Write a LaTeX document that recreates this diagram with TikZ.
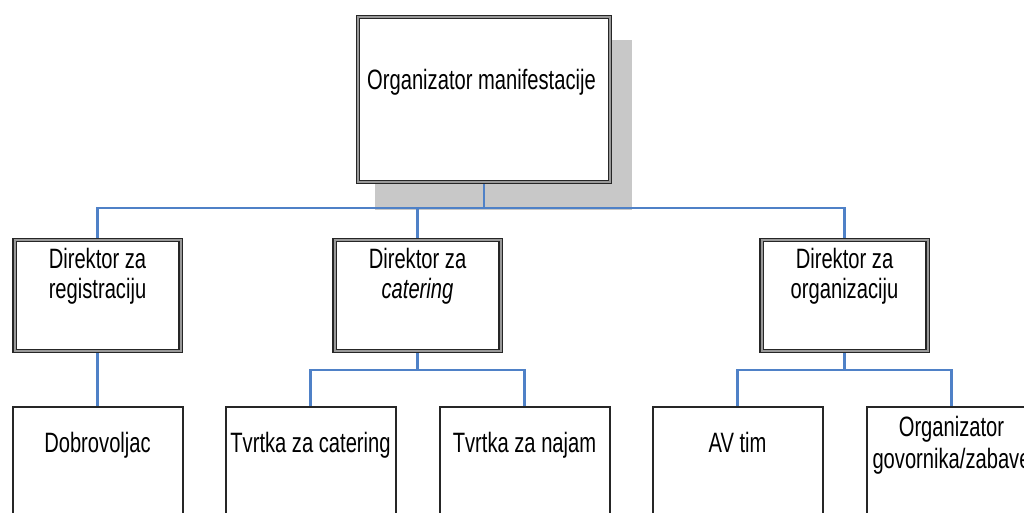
\documentclass[tikz,border=0pt]{standalone}
\usepackage{fontspec}
\setmainfont{Liberation Sans}[FakeStretch=0.72]
\definecolor{connblue}{RGB}{79,129,199}
\definecolor{shadowgray}{RGB}{200,200,200}
\begin{document}
\begin{tikzpicture}[x=1pt,y=-1pt,
  conn/.style={draw=connblue, line width=2.4pt},
  dblbox/.style={rectangle, draw=black!85, double=black!40, double distance=2pt,
    line width=1.4pt, fill=white, inner sep=0pt, outer sep=2.4pt},
  leafbox/.style={rectangle, draw=black!85, line width=2pt, fill=white,
    inner sep=0pt, outer sep=1pt, minimum width=170pt, minimum height=140pt, anchor=north},
  dirbox/.style={dblbox, minimum width=166pt, minimum height=111pt, anchor=north},
  txt/.style={inner sep=0pt, align=center, font=\fontsize{28}{30}\selectfont}]
\useasboundingbox (0,0) rectangle (1024,512);
\clip (0,0) rectangle (1024,512);
% shadow of the top box
\fill[shadowgray] (375,40) rectangle (632,210);
% boxes
\node[dblbox, anchor=north west, minimum width=252pt, minimum height=165pt] (top) at (355.5,14.5) {};
\node[dirbox] (d1) at (97.5,237.5) {};
\node[dirbox] (d2) at (417.5,237.5) {};
\node[dirbox] (d3) at (844.5,237.5) {};
\node[leafbox] (b1) at (97.5,405.75) {};
\node[leafbox] (b2) at (310.5,405.75) {};
\node[leafbox] (b3) at (524.5,405.75) {};
\node[leafbox] (b4) at (737.5,405.75) {};
\node[leafbox] (b5) at (951.5,405.75) {};
% texts
\node[txt, anchor=base] (t0) at (481.5,89) {Organizator manifestacije};
\node[txt, anchor=north] (t1) at (97.5,247.8) {Direktor za\\registraciju};
\node[txt, anchor=north] (t2) at (417.5,247.8) {Direktor za\\\textit{catering}};
\node[txt, anchor=north] (t3) at (844.5,247.8) {Direktor za\\organizaciju};
\node[txt, anchor=base] (t4) at (97.5,452) {Dobrovoljac};
\node[txt, anchor=base] (t5) at (310.5,452) {Tvrtka za catering};
\node[txt, anchor=base] (t6) at (524.5,452) {Tvrtka za najam};
\node[txt, anchor=base] (t7) at (737.5,452) {AV tim};
\node[txt, anchor=north] (t8) at (951.5,416) {Organizator\\[2pt]govornika/zabave};
% connectors
\coordinate (bus1) at (top.south |- 0,208);
\coordinate (bus2) at (d2.south |- 0,370);
\coordinate (bus3) at (d3.south |- 0,370);
\draw[conn] (top.south) -- (bus1);
\draw[conn] (d1.north) |- (bus1) -| (d3.north);
\draw[conn] (d2.north) -- (d2.north |- bus1);
\draw[conn] (d1.south) -- (b1.north);
\draw[conn] (d2.south) -- (bus2);
\draw[conn] (b2.north) |- (bus2) -| (b3.north);
\draw[conn] (d3.south) -- (bus3);
\draw[conn] (b4.north) |- (bus3) -| (b5.north);
\end{tikzpicture}
\end{document}
